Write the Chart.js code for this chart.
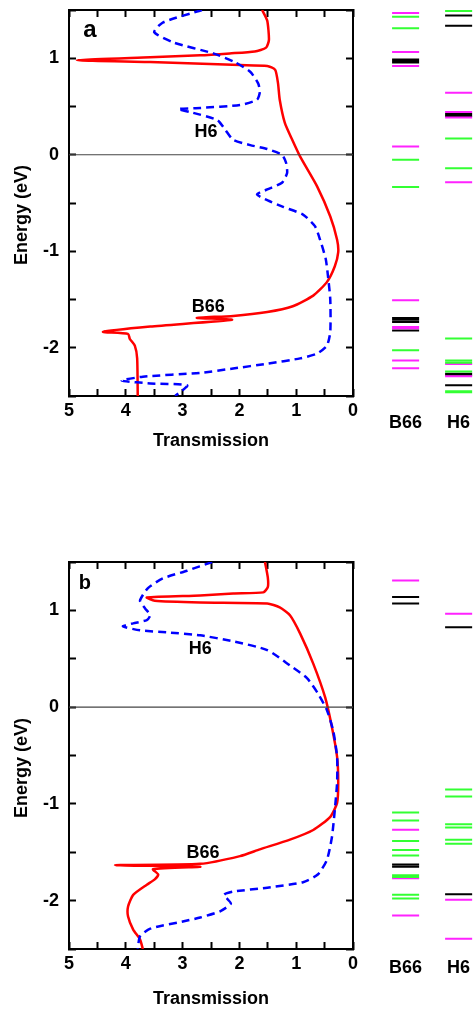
<!DOCTYPE html>
<html>
<head>
<meta charset="utf-8">
<script src="https://cdn.jsdelivr.net/npm/chart.js@4.4.0/dist/chart.umd.min.js"></script>
<style>
  body { margin: 0; background: #fff; width: 474px; height: 1011px; position: relative; overflow: hidden; }
  .box { position: absolute; }
</style>
</head>
<body>
<div class="box" style="left:0;top:0;width:360px;height:460px"><canvas id="transA"></canvas></div>
<div class="box" style="left:360px;top:0;width:114px;height:460px"><canvas id="levelsA"></canvas></div>
<div class="box" style="left:0;top:550px;width:360px;height:461px"><canvas id="transB"></canvas></div>
<div class="box" style="left:360px;top:550px;width:114px;height:461px"><canvas id="levelsB"></canvas></div>
<script>
const FONT = '"Liberation Sans", Arial, Helvetica, sans-serif';
Chart.defaults.font.family = FONT;
Chart.defaults.font.weight = 'bold';
Chart.defaults.font.size = 18;
Chart.defaults.color = '#000';

const columns = ['B66', 'H6'];

// transmission curves as [transmission, energy (eV)]
const b66A = [[1.60,1.50],[1.51,1.39],[1.48,1.19],[1.53,1.11],[1.73,1.07],[2.17,1.05],[2.69,1.03],[3.57,1.01],[4.86,0.98],
  [3.57,0.96],[1.99,0.93],[1.51,0.92],[1.37,0.88],[1.32,0.74],[1.29,0.57],[1.20,0.33],[1.07,0.155],[0.93,-0.02],
  [0.63,-0.33],[0.40,-0.64],[0.28,-0.88],[0.26,-1.01],[0.32,-1.155],[0.46,-1.32],[0.70,-1.46],[1.06,-1.57],
  [1.51,-1.63],[2.11,-1.67],[2.75,-1.69],[2.13,-1.71],[3.57,-1.78],[4.40,-1.835],[3.96,-1.856],[3.93,-1.907],
  [3.84,-1.98],[3.80,-2.11],[3.79,-2.5]];
const h6A = [[2.66,1.50],[3.35,1.37],[3.50,1.27],[3.17,1.165],[2.46,1.05],[2.08,0.96],[1.81,0.86],[1.67,0.74],
  [1.64,0.65],[1.69,0.57],[1.99,0.515],[2.69,0.485],[3.08,0.474],[2.87,0.443],[2.39,0.36],[2.25,0.26],[2.11,0.155],
  [1.81,0.10],[1.51,0.06],[1.25,0],[1.18,-0.08],[1.16,-0.19],[1.25,-0.29],[1.51,-0.36],[1.69,-0.41],[1.55,-0.46],
  [1.23,-0.54],[0.88,-0.62],[0.67,-0.74],[0.58,-0.88],[0.48,-1.08],[0.44,-1.26],[0.40,-1.50],[0.40,-1.835],
  [0.46,-1.98],[0.63,-2.06],[0.93,-2.11],[1.51,-2.165],[2.11,-2.215],[2.69,-2.26],[3.70,-2.30],[4.07,-2.34],
  [3.57,-2.37],[2.92,-2.39],[3.13,-2.5]];
const b66B = [[1.55,1.50],[1.50,1.34],[1.50,1.24],[1.58,1.186],[2.11,1.175],[2.69,1.155],[3.63,1.134],[3.49,1.10],
  [2.69,1.082],[1.51,1.072],[1.29,1.03],[1.11,0.95],[0.93,0.76],[0.70,0.45],[0.49,0.10],[0.37,-0.21],[0.28,-0.515],
  [0.26,-0.78],[0.28,-0.99],[0.40,-1.134],[0.70,-1.27],[1.11,-1.37],[1.64,-1.47],[1.99,-1.54],[2.69,-1.62],
  [4.19,-1.634],[2.69,-1.65],[3.52,-1.675],[3.43,-1.73],[3.49,-1.78],[3.63,-1.835],[3.87,-1.94],[3.96,-2.06],
  [3.96,-2.165],[3.87,-2.30],[3.75,-2.40],[3.70,-2.5]];
const h6B = [[2.48,1.50],[2.92,1.41],[3.35,1.33],[3.61,1.23],[3.75,1.10],[3.66,1.02],[3.57,0.95],[3.63,0.90],
  [3.87,0.866],[4.05,0.835],[3.75,0.794],[3.27,0.773],[2.69,0.742],[2.11,0.68],[1.51,0.59],[1.11,0.43],[0.81,0.30],
  [0.62,0.144],[0.46,-0.03],[0.35,-0.24],[0.28,-0.515],[0.28,-0.78],[0.32,-1.06],[0.37,-1.34],[0.46,-1.58],
  [0.62,-1.73],[0.88,-1.81],[1.51,-1.866],[2.11,-1.907],[2.27,-1.94],[2.15,-2.03],[2.34,-2.11],[2.69,-2.175],
  [2.92,-2.206],[3.57,-2.29],[3.75,-2.37],[3.79,-2.5]];

// energy levels (eV)
const aB66Magenta = [1.47, 1.065, 0.92, 0.086, -1.508, -1.784, -1.797, -2.131, -2.213];
const aB66Green = [1.43, 1.31, -0.052, -0.333, -2.027];
const aB66Black = [0.987, 0.972, 0.955, -1.691, -1.711, -1.732, -1.821];
const aH6Magenta = [0.642, 0.443, 0.385, -0.285, -2.168, -2.295];
const aH6Green = [1.49, 0.168, -0.141, -1.904, -2.131, -2.155, -2.247, -2.45, -2.46];
const aH6Black = [1.443, 1.337, 0.423, 0.402, -2.27, -2.28, -2.389];

const bB66Magenta = [1.309, -1.268, -1.77, -2.155];
const bB66Green = [-1.09, -1.172, -1.385, -1.478, -1.533, -1.739, -1.756, -1.938, -1.979];
const bB66Black = [1.137, 1.072, -1.626, -1.649];
const bH6Magenta = [0.966, -1.99, -2.395];
const bH6Green = [-0.852, -0.924, -1.21, -1.244, -1.371, -1.412];
const bH6Black = [0.825, -1.935];

// text drawn on top of the transmission plot
const notes = {
  id: 'notes',
  afterDatasetsDraw(chart, args, o) {
    const { ctx, scales: { x, y } } = chart;
    ctx.save();
    ctx.fillStyle = '#000';
    ctx.textAlign = 'center';
    ctx.textBaseline = 'middle';
    o.labels.forEach(l => {
      ctx.font = `bold ${l.size}px ${FONT}`;
      ctx.fillText(l.text, x.getPixelForValue(l.t), y.getPixelForValue(l.e));
    });
    ctx.translate(22, o.titleY);
    ctx.rotate(-Math.PI / 2);
    ctx.font = `bold 18px ${FONT}`;
    ctx.fillText('Energy (eV)', 0, 0);
    ctx.restore();
  }
};

// fixed axis sizes, and no extra room for end labels
const fixSize = (w, h) => s => {
  if (w !== null) s.width = w;
  if (h !== null) s.height = h;
  s.paddingTop = s.paddingBottom = s.paddingLeft = s.paddingRight = 0;
};

function transmissionChart(id, b66, h6, opts) {
  const pts = arr => arr.map(([t, e]) => ({ x: t, y: e }));
  const inward = { drawOnChartArea: false, tickLength: -7, tickWidth: 2, tickColor: '#000' };
  const frame = { display: true, color: '#000', width: 2 };
  const labelled = { stepSize: 0.5, autoSkip: false, maxRotation: 0, callback: v => Number.isInteger(v) ? String(v) : '' };
  const blank = { stepSize: 0.5, autoSkip: false, maxRotation: 0, callback: () => '' };

  return new Chart(document.getElementById(id), {
    type: 'scatter',
    data: {
      datasets: [
        { data: [{ x: 0, y: 0 }, { x: 5, y: 0 }], showLine: true, borderColor: '#444', borderWidth: 1.2, pointRadius: 0 },
        { label: 'H6', data: pts(h6), showLine: true, borderColor: '#0000ff', borderWidth: 2.5, borderDash: [8, 5], pointRadius: 0, tension: 0.2 },
        { label: 'B66', data: pts(b66), showLine: true, borderColor: '#ff0000', borderWidth: 2.5, pointRadius: 0, tension: 0.2 }
      ]
    },
    options: {
      animation: false,
      responsive: true,
      maintainAspectRatio: false,
      layout: { padding: { top: opts.top, right: 7 } },
      plugins: { legend: { display: false }, tooltip: { enabled: false }, notes: opts.notes },
      scales: {
        x: {
          type: 'linear', min: 0, max: 5, reverse: true,
          grid: inward, border: frame,
          ticks: { ...labelled, padding: 11 },
          title: { display: true, text: 'Transmission', padding: { top: 0, bottom: opts.titlePad } },
          afterFit: fixSize(null, opts.xHeight)
        },
        xTop: {
          type: 'linear', position: 'top', min: 0, max: 5, reverse: true,
          grid: inward, border: frame, ticks: blank,
          afterFit: fixSize(null, 0)
        },
        y: {
          type: 'linear', min: -2.5, max: 1.5,
          grid: inward, border: frame,
          ticks: { ...labelled, padding: 17 },
          afterFit: fixSize(69, null)
        },
        yRight: {
          type: 'linear', position: 'right', min: -2.5, max: 1.5,
          grid: inward, border: frame, ticks: blank,
          afterFit: fixSize(0, null)
        }
      }
    },
    plugins: [notes]
  });
}

function levelsChart(id, sets, opts) {
  const seg = (list, col) => list.flatMap(e => [{ x: col - 0.255, y: e }, { x: col + 0.255, y: e }, { x: col, y: null }]);
  return new Chart(document.getElementById(id), {
    type: 'scatter',
    data: {
      datasets: sets.map(s => ({
        data: [...seg(s.b66, 0), ...seg(s.h6, 1)],
        showLine: true, spanGaps: false, borderColor: s.color, borderWidth: 2, pointRadius: 0
      }))
    },
    options: {
      animation: false,
      responsive: true,
      maintainAspectRatio: false,
      layout: { padding: { top: opts.top } },
      plugins: { legend: { display: false }, tooltip: { enabled: false } },
      scales: {
        x: {
          type: 'linear', min: -0.86, max: 1.29,
          grid: { display: false, drawTicks: false }, border: { display: false },
          afterBuildTicks: s => { s.ticks = [{ value: 0 }, { value: 1 }]; },
          ticks: { autoSkip: false, maxRotation: 0, padding: opts.labelPad, callback: v => columns[v] },
          afterFit: fixSize(null, opts.xHeight)
        },
        y: { type: 'linear', display: false, min: -2.5, max: 1.5 }
      }
    }
  });
}

transmissionChart('transA', b66A, h6A, {
  top: 10, xHeight: 64, titlePad: 8,
  notes: {
    titleY: 215,
    labels: [
      { text: 'a', t: 4.63, e: 1.29, size: 24 },
      { text: 'H6', t: 2.59, e: 0.237, size: 18 },
      { text: 'B66', t: 2.55, e: -1.577, size: 18 }
    ]
  }
});
transmissionChart('transB', b66B, h6B, {
  top: 12, xHeight: 62, titlePad: 1,
  notes: {
    titleY: 218,
    labels: [
      { text: 'b', t: 4.72, e: 1.28, size: 20 },
      { text: 'H6', t: 2.69, e: 0.598, size: 18 },
      { text: 'B66', t: 2.64, e: -1.505, size: 18 }
    ]
  }
});

levelsChart('levelsA', [
  { color: '#33ff33', b66: aB66Green, h6: aH6Green },
  { color: '#ff22ff', b66: aB66Magenta, h6: aH6Magenta },
  { color: '#000000', b66: aB66Black, h6: aH6Black }
], { top: 10, xHeight: 64, labelPad: 16 });
levelsChart('levelsB', [
  { color: '#33ff33', b66: bB66Green, h6: bH6Green },
  { color: '#ff22ff', b66: bB66Magenta, h6: bH6Magenta },
  { color: '#000000', b66: bB66Black, h6: bH6Black }
], { top: 12, xHeight: 62, labelPad: 8 });
</script>
</body>
</html>
